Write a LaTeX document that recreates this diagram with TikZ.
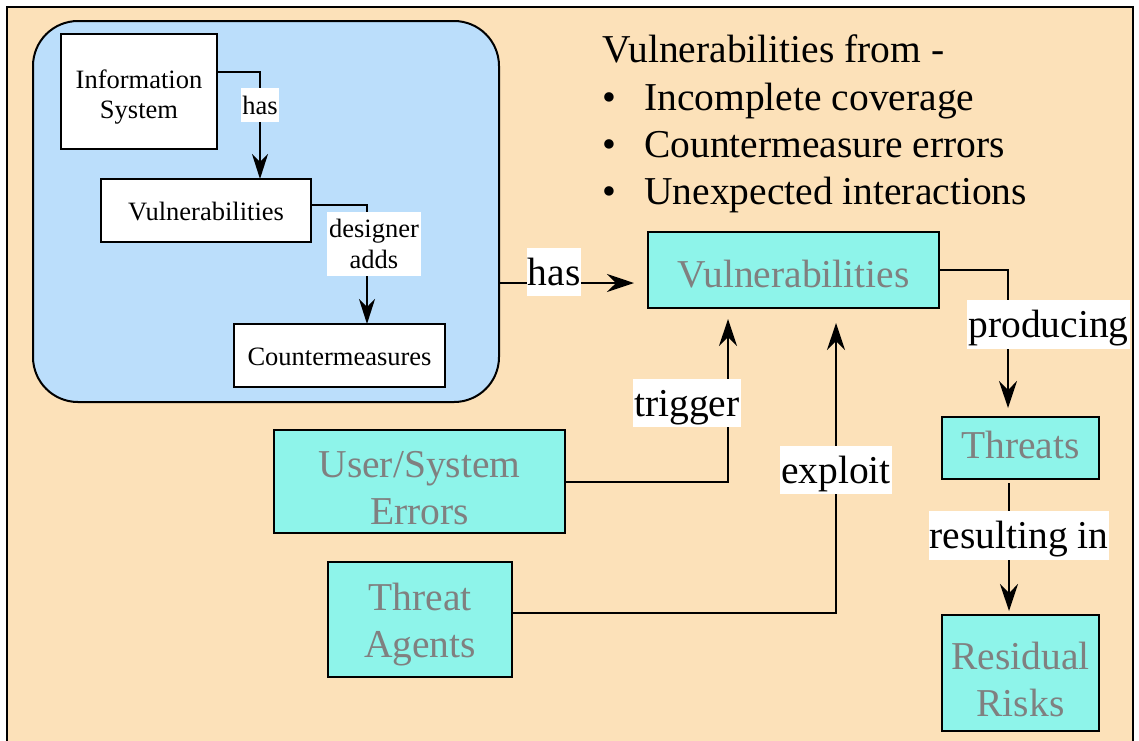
\documentclass[tikz,border=0pt]{standalone}
\usepackage{fontspec}
\setmainfont{Liberation Serif}
\usetikzlibrary{arrows.meta,calc}
\definecolor{peach}{HTML}{FCE1B9}
\definecolor{skyb}{HTML}{BBDEFB}
\definecolor{aqua}{HTML}{8EF4EA}
\definecolor{greytext}{HTML}{808080}
\newcommand{\padtop}[1]{\rule{0pt}{#1}}
\newcommand{\padbot}[1]{\rule[-#1]{0pt}{#1}}
\begin{document}
\begin{tikzpicture}[x=1pt,y=-1pt,
  bigfont/.style={font=\fontsize{39.5}{47}\selectfont},
  smallfont/.style={font=\fontsize{26.5}{30.5}\selectfont},
  wbox/.style={draw,line width=2pt,fill=white,inner sep=0pt,outer sep=0pt,align=center,smallfont},
  cbox/.style={draw,line width=2pt,fill=aqua,text=greytext,inner sep=0pt,outer sep=0pt,align=center,bigfont},
  labB/.style={fill=white,inner xsep=1pt,inner ysep=2pt,text height=35.5pt,text depth=8.7pt,bigfont},
  labS/.style={fill=white,inner xsep=1pt,inner ysep=2pt,text height=23.9pt,text depth=5.8pt,smallfont},
  connB/.style={line width=2pt,-{Stealth[length=27pt,width=18pt,inset=9pt]}},
  connS/.style={line width=2pt,-{Stealth[length=25pt,width=16pt,inset=8pt]}},
  ]
\useasboundingbox (0,0) rectangle (1139,740);
\clip (0,0) rectangle (1139,740);
\fill[white] (0,0) rectangle (1139,740);
\draw[line width=2pt,fill=peach] (7,7) rectangle (1133,760);

% inner system box
\node[draw,line width=2pt,fill=skyb,rounded corners=45pt,minimum width=466pt,minimum height=381pt,inner sep=0pt,outer sep=0pt] (blue) at (266,211.5) {};
\node[wbox,minimum width=156pt,minimum height=115pt] (IS) at (139,91.5) {\padtop{30pt}Information\\System};
\node[wbox,minimum width=210pt,minimum height=63pt] (iV) at (206,210.5) {\padtop{20pt}Vulnerabilities};
\node[wbox,minimum width=211pt,minimum height=63pt] (CM) at (339.5,355.5) {\padtop{20pt}Countermeasures};

% title text
\node[bigfont,anchor=base west,inner sep=0pt] (t0) at (602,62) {Vulnerabilities from -};
\node[bigfont,anchor=base west,inner sep=0pt] (t1) at (602,110) {\makebox[42pt][l]{\textbullet}Incomplete coverage};
\node[bigfont,anchor=base west,inner sep=0pt] (t2) at (602,157) {\makebox[42pt][l]{\textbullet}Countermeasure errors};
\node[bigfont,anchor=base west,inner sep=0pt] (t3) at (602,204) {\makebox[42pt][l]{\textbullet}Unexpected interactions};

% main boxes
\node[cbox,minimum width=291pt,minimum height=76pt] (V) at (793.5,270) {\padtop{35pt}Vulnerabilities};
\node[cbox,minimum width=157pt,minimum height=62pt] (T) at (1020.5,448) {Threats\padbot{6pt}};
\node[cbox,minimum width=157pt,minimum height=116pt] (R) at (1020.5,673) {\padtop{40pt}Residual\\Risks};
\node[cbox,minimum width=291pt,minimum height=103pt] (USE) at (419.5,481.5) {\padtop{40pt}User/System\\Errors};
\node[cbox,minimum width=184pt,minimum height=115pt] (TA) at (420,619.5) {\padtop{38pt}Threat\\Agents};

% inner connectors
\draw[connS] ([yshift=19.5pt]IS.east) -| ([xshift=54pt]iV.north)
  node[labS,pos=0.654] (l1) {has};
\draw[connS] ([yshift=5.5pt]iV.east) -| ([xshift=27.5pt]CM.north)
  node[fill=white,smallfont,align=center,inner xsep=2pt,inner ysep=7pt,pos=0.664,xshift=7pt] (l2) {designer\\adds};

% main connectors
\draw[connB,shorten >=14pt] ([yshift=-71.5pt]blue.east) -- ([yshift=-13pt]V.west)
  node[labB,pos=0.37,yshift=11pt] (l3) {has};
\draw[connB,shorten >=9pt] (V.east) -| ([xshift=-12.5pt]T.north)
  node[labB,pos=0.685,xshift=40.5pt] (l4) {producing};
\draw[connB,shorten <=4pt,shorten >=4pt] ([xshift=-11.5pt]T.south) -- ([xshift=-11.5pt]R.north)
  node[labB,pos=0.415,xshift=10pt] (l5) {resulting in};
\draw[connB,shorten >=11pt] (USE.east) -| ([xshift=-65.5pt]V.south)
  node[labB,pos=0.726,xshift=-41pt] (l6) {trigger};
\draw[connB,shorten >=15pt] ([yshift=6.5pt]TA.east) -| ([xshift=42.5pt]V.south)
  node[labB,pos=0.735] (l7) {exploit};
\end{tikzpicture}
\end{document}
